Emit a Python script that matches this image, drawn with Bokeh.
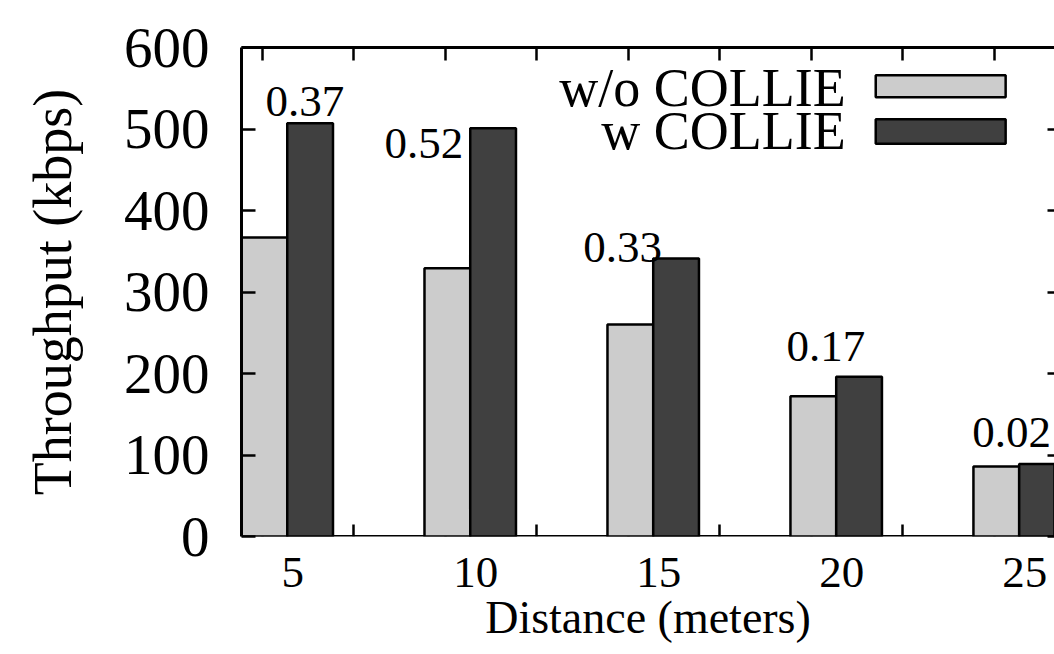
from bokeh.plotting import figure
from bokeh.models import Range1d, FixedTicker, LinearAxis, Grid
from bokeh.core.properties import value
from bokeh.embed import file_html
from bokeh.resources import INLINE

# ---- data ----
distances = ["5", "10", "15", "20", "25"]
without_collie = [367, 329, 260, 172, 86]
with_collie = [507, 501, 341, 196, 89]
gain_labels = ["0.37", "0.52", "0.33", "0.17", "0.02"]
y_ticks = [0, 100, 200, 300, 400, 500, 600]
legend_names = ["w/o COLLIE", "w COLLIE"]

# ---- layout / style ----
FONT = "Liberation Serif"
BAR_W = 0.25
LIGHT = "#cccccc"
DARK = "#404040"
TICK_LABEL_SHIFT = 0.03
label_dx = [0.096, -0.254, -0.167, -0.057, -0.041]
label_y = [534, 482, 355, 233, 128]
x_minor_ticks = [-0.137 + 0.5 * k for k in range(9)]
legend_text_x = 3.052
legend_text_y = [550, 497]
legend_box_left, legend_box_right = 3.216, 3.926
legend_box_top = [566, 512]
legend_box_bottom = [539, 482]

idx = list(range(len(distances)))
label_ticks = [i + TICK_LABEL_SHIFT for i in idx]

p = figure(width=1054, height=654, output_backend="svg", toolbar_location=None,
           x_range=Range1d(-0.25, 4.193), y_range=Range1d(0, 600),
           x_axis_location=None, y_axis_location=None,
           min_border_left=241, min_border_right=0, min_border_top=47,
           min_border_bottom=118)
p.center = [r for r in p.center if not isinstance(r, Grid)]
p.outline_line_color = None
p.background_fill_color = "white"
p.border_fill_color = "white"

# bottom frame line + inner ticks (drawn beneath the bars)
xframe = LinearAxis(
    ticker=FixedTicker(ticks=[], minor_ticks=x_minor_ticks),
    major_tick_in=0, major_tick_out=0,
    minor_tick_in=12, minor_tick_out=0,
    minor_tick_line_width=2.5, minor_tick_line_color="black",
    axis_line_width=3, axis_line_color="black",
    major_label_standoff=0,
)
xframe.level = "underlay"
p.add_layout(xframe, "below")

# bottom labels + title
xaxis = LinearAxis(
    ticker=FixedTicker(ticks=label_ticks),
    major_label_overrides={t: d for t, d in zip(label_ticks, distances)},
    major_tick_in=0, major_tick_out=0, minor_tick_in=0, minor_tick_out=0,
    axis_line_color=None,
    major_label_text_font=FONT, major_label_text_font_size="45px",
    major_label_text_color="black", major_label_standoff=21,
    axis_label="Distance (meters)", axis_label_text_font=FONT,
    axis_label_text_font_size="46px", axis_label_text_font_style="normal",
    axis_label_text_color="black", axis_label_standoff=2,
)
p.add_layout(xaxis, "below")

# top mirrored ticks
top_axis = LinearAxis(
    ticker=FixedTicker(ticks=[], minor_ticks=x_minor_ticks),
    major_tick_in=0, major_tick_out=0,
    minor_tick_in=13, minor_tick_out=0,
    minor_tick_line_width=2.5, minor_tick_line_color="black",
    axis_line_width=3, axis_line_color="black",
    major_label_standoff=0,
)
p.add_layout(top_axis, "above")

# left axis
yaxis = LinearAxis(
    ticker=FixedTicker(ticks=y_ticks),
    major_tick_in=14, major_tick_out=0, minor_tick_in=0, minor_tick_out=0,
    major_tick_line_width=2.5, major_tick_line_color="black",
    axis_line_width=3, axis_line_color="black",
    major_label_text_font=FONT, major_label_text_font_size="57px",
    major_label_text_color="black", major_label_standoff=32,
    axis_label="Throughput (kbps)", axis_label_text_font=FONT,
    axis_label_text_font_size="54px", axis_label_text_font_style="normal",
    axis_label_text_color="black", axis_label_standoff=38,
)
p.add_layout(yaxis, "left")

# right mirrored ticks
raxis = LinearAxis(
    ticker=FixedTicker(ticks=[], minor_ticks=y_ticks),
    major_tick_in=0, major_tick_out=0, minor_tick_in=7, minor_tick_out=0,
    minor_tick_line_width=2.5, minor_tick_line_color="black",
    axis_line_color=None, major_label_standoff=0,
)
p.add_layout(raxis, "right")

# bars
p.vbar(x=[i - BAR_W / 2 for i in idx], top=without_collie, bottom=0, width=BAR_W,
       fill_color=LIGHT, line_color="black", line_width=2.5)
p.vbar(x=[i + BAR_W / 2 for i in idx], top=with_collie, bottom=0, width=BAR_W,
       fill_color=DARK, line_color="black", line_width=2.5)

# gain labels
p.text(x=[i + d for i, d in zip(idx, label_dx)], y=label_y, text=gain_labels,
       text_font=value(FONT), text_font_size="45px", text_color="black",
       text_align="center", text_baseline="alphabetic")

# legend (text left of swatch, gnuplot style)
p.text(x=[legend_text_x] * 2, y=legend_text_y, text=legend_names,
       text_font=value(FONT), text_font_size="54px", text_color="black",
       text_align="right", text_baseline="alphabetic")
p.quad(left=[legend_box_left] * 2, right=[legend_box_right] * 2,
       top=legend_box_top, bottom=legend_box_bottom,
       fill_color=[LIGHT, DARK], line_color="black", line_width=2.5)

open("out.html", "w").write(file_html(p, INLINE))
